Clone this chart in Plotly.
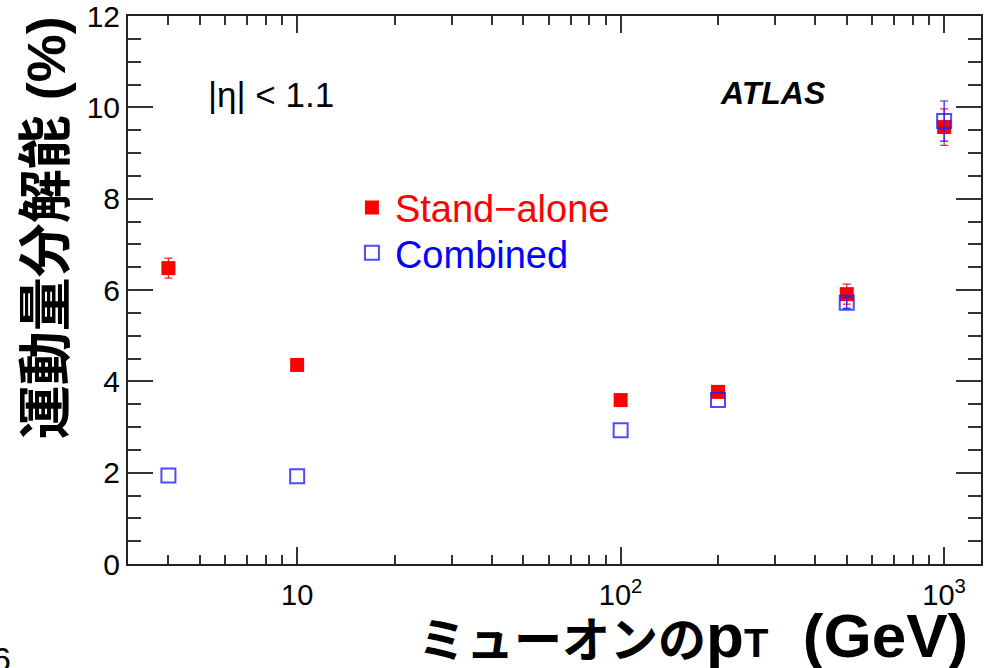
import plotly.graph_objects as go
import numpy as np
import math

# ---- data ----
pt = [4, 10, 100, 200, 500, 1000]
standalone = [6.48, 4.36, 3.59, 3.77, 5.91, 9.57]
standalone_err = [0.22, None, None, None, 0.22, 0.40]
combined = [1.94, 1.92, 2.93, 3.59, 5.72, 9.70]
combined_err = [None, None, None, None, 0.12, 0.44]
y_tickvals = [0, 2, 4, 6, 8, 10, 12]
x_tickvals = [10, 100, 1000]
x_ticktext = ["10", "10<sup>2</sup>", "10<sup>3</sup>"]
x_minor = [3, 4, 5, 6, 7, 8, 9, 20, 30, 40, 50, 60, 70, 80, 90,
           200, 300, 400, 500, 600, 700, 800, 900]

def as_err(values):
    # missing errors become NaN so that no error bar is drawn for them
    return np.array([np.nan if v is None else v for v in values], dtype=float)

LAT = "Liberation Sans, Arial, Helvetica, sans-serif"
CJK = "Liberation Sans, Noto Sans CJK JP, sans-serif"

fig = go.Figure()
fig.add_trace(go.Scatter(
    x=pt, y=standalone, mode="markers", name="Stand\u2212alone", legend="legend",
    marker=dict(symbol="square", size=14, color="#ff0000", line=dict(width=0)),
    error_y=dict(type="data", array=as_err(standalone_err), color="#ff2020", thickness=1.2, width=4),
))
fig.add_trace(go.Scatter(
    x=pt, y=combined, mode="markers", name="Combined", legend="legend2",
    marker=dict(symbol="square-open", size=14, color="rgba(30,30,255,0.8)", line=dict(width=2)),
    error_y=dict(type="data", array=as_err(combined_err), color="#2020ff", thickness=1.2, width=4),
))

leg_common = dict(xanchor="left", yanchor="middle", bgcolor="rgba(0,0,0,0)", itemwidth=36)
fig.update_layout(
    width=993, height=668,
    margin=dict(l=128, r=12, t=16, b=104),
    paper_bgcolor="white", plot_bgcolor="white",
    font=dict(family=LAT, color="black"),
    showlegend=True,
    legend=dict(x=0.259, y=0.650, font=dict(family=LAT, size=38, color="#ff0000"), **leg_common),
    legend2=dict(x=0.259, y=0.5675, font=dict(family=LAT, size=38, color="#0000ff"), **leg_common),
)
fig.update_xaxes(
    type="log", range=[math.log10(3), math.log10(1300)],
    tickvals=x_tickvals, ticktext=x_ticktext,
    ticks="inside", ticklen=17, tickwidth=1.5, tickcolor="#333",
    minor=dict(tickvals=x_minor, ticks="inside", ticklen=9, tickwidth=1.5, tickcolor="#333"),
    showline=True, linecolor="#222", linewidth=2, mirror="ticks",
    showgrid=False, zeroline=False,
    tickfont=dict(family=LAT, size=29),
    ticklabelstandoff=4, ticklabeloverflow="allow", automargin=False,
)
fig.update_yaxes(
    range=[0, 12.002], tickvals=y_tickvals,
    ticks="inside", ticklen=25, tickwidth=1.5, tickcolor="#333",
    minor=dict(dtick=0.5, ticks="inside", ticklen=13, tickwidth=1.5, tickcolor="#333"),
    showline=True, linecolor="#222", linewidth=2, mirror="ticks",
    showgrid=False, zeroline=False,
    tickfont=dict(family=LAT, size=30),
    ticklabeloverflow="allow", automargin=False,
)

fig.add_annotation(
    text="<b>運動量分解能 (%)</b>", textangle=-90, showarrow=False,
    xref="paper", yref="paper", x=-0.096, y=0.613, xanchor="center", yanchor="middle",
    font=dict(family=CJK, size=54, color="black"),
)
fig.add_annotation(
    text='<b><span style="font-size:48px">ミューオンの</span>p<span style="font-size:40px">T</span>  (GeV)</b>',
    showarrow=False, xref="paper", yref="paper", x=0.987, y=-0.13,
    xanchor="right", yanchor="middle",
    font=dict(family=CJK, size=62, color="black"),
)
fig.add_annotation(
    text="|η| < 1.1", showarrow=False, xref="paper", yref="paper",
    x=0.168, y=0.856, xanchor="center", yanchor="middle",
    font=dict(family=LAT, size=35, color="black"),
)
fig.add_annotation(
    text="<b><i>ATLAS</i></b>", showarrow=False, xref="paper", yref="paper",
    x=0.756, y=0.859, xanchor="center", yanchor="middle",
    font=dict(family=LAT, size=32, color="black"),
)
fig.add_annotation(
    text="6", showarrow=False, xref="paper", yref="paper",
    x=-0.162, y=-0.135, xanchor="left", yanchor="top",
    font=dict(family=LAT, size=34, color="black"),
)

fig.write_html("out.html")
